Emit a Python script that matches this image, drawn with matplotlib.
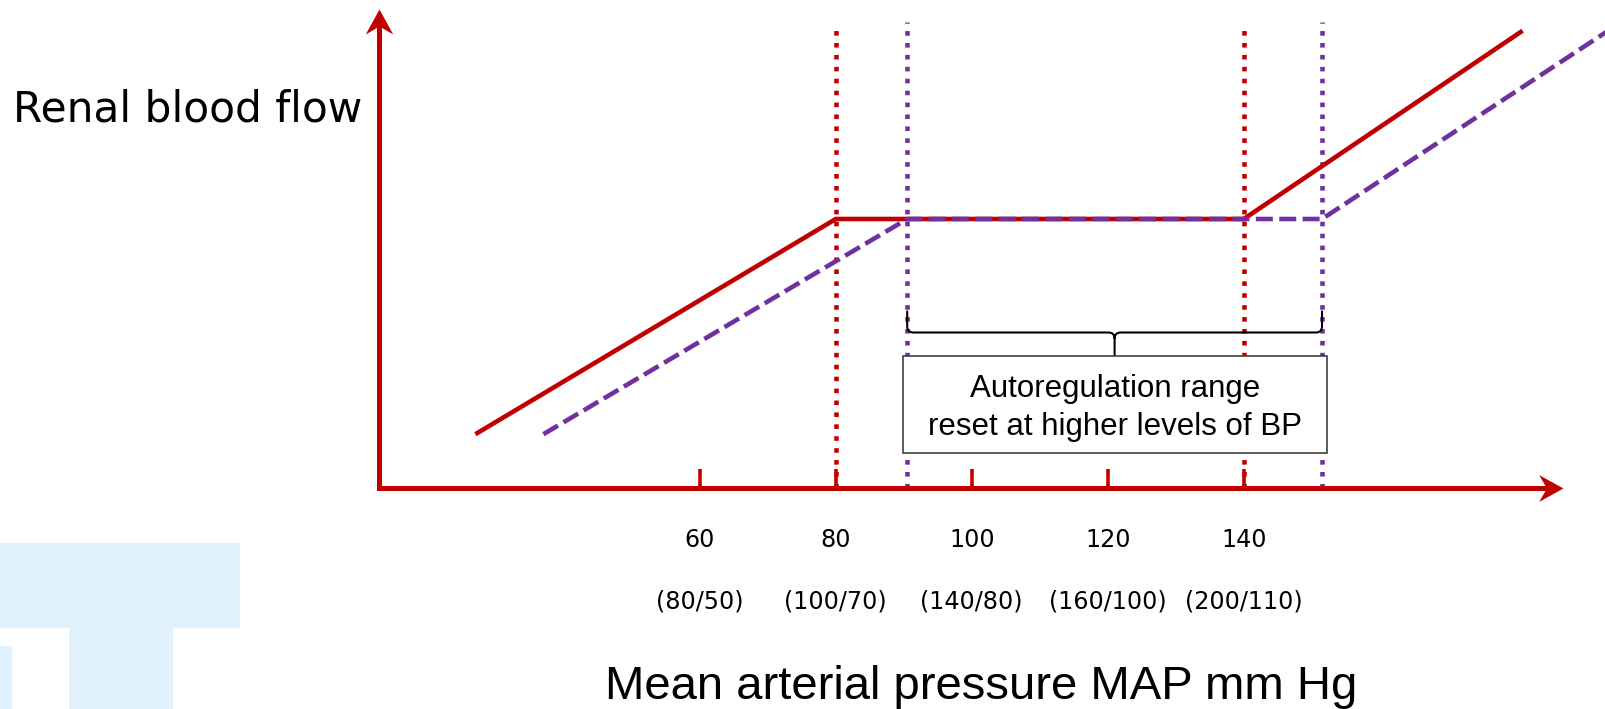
import matplotlib
matplotlib.use("Agg")
import matplotlib.pyplot as plt
from matplotlib.path import Path
from matplotlib.patches import PathPatch, Rectangle

# ---------------- data ----------------
map_ticks = [60, 80, 100, 120, 140]
bp_labels = ["(80/50)", "(100/70)", "(140/80)", "(160/100)", "(200/110)"]

normal_x = [27, 80, 140, 181]          # normal autoregulation curve (MAP)
normal_y = [20, 100, 100, 170]         # renal blood flow (arbitrary units)
reset_x = [37, 90.5, 151.5, 196]       # reset curve (hypertension)
reset_y = [20, 100, 100, 174]

normal_range = [80, 140]
reset_range = [90.5, 151.5]

y_label = "Renal blood flow"
x_label = "Mean arterial pressure MAP mm Hg"
box_lines = ["Autoregulation range", "reset at higher levels of BP"]

RED = "#C00000"
PURPLE = "#7030A0"
LOGO = "#E0F2FD"

# ---------------- layout helpers ----------------
W, H, DPI = 1605, 709, 100
fig = plt.figure(figsize=(W / DPI, H / DPI), dpi=DPI)
ax = fig.add_axes([0, 0, 1, 1])

X_SCALE, X_REF_PX, X_REF = 6.8, 971.8, 100.0
Y_SCALE, Y0_PX = 2.69, 488.0


def dx(px):
    return X_REF + (px - X_REF_PX) / X_SCALE


def dy(py):
    return (Y0_PX - py) / Y_SCALE


ax.set_xlim(dx(0), dx(W))
ax.set_ylim(dy(H), dy(0))
ax.axis("off")

# ---------------- background logo ----------------
for (x0, y0, x1, y1) in [(0, 543, 240, 628), (69, 628, 173, 709), (0, 646, 12, 709)]:
    fig.patches.append(Rectangle((x0 / W, 1 - y1 / H), (x1 - x0) / W, (y1 - y0) / H,
                                 transform=fig.transFigure, facecolor=LOGO,
                                 edgecolor="none", zorder=0))

# ---------------- axes with arrows ----------------
y_axis_x = dx(379)
x_tip = dx(1563)
y_tip = dy(9)
ax.plot([y_axis_x, dx(1546)], [0, 0], color=RED, lw=3.6, solid_capstyle="projecting", zorder=2)
ax.plot([y_axis_x, y_axis_x], [0, dy(26)], color=RED, lw=3.6, solid_capstyle="projecting", zorder=2)

head_right = Path([(0, 0), (-1, 0.55), (-0.68, 0), (-1, -0.55), (0, 0)],
                  [Path.MOVETO, Path.LINETO, Path.LINETO, Path.LINETO, Path.CLOSEPOLY])
head_up = Path([(0, 0), (0.55, -1), (0, -0.68), (-0.55, -1), (0, 0)],
               [Path.MOVETO, Path.LINETO, Path.LINETO, Path.LINETO, Path.CLOSEPOLY])
ax.plot([x_tip], [0], marker=head_right, ms=35, color=RED, mew=0, linestyle="none", zorder=3)
ax.plot([y_axis_x], [y_tip], marker=head_up, ms=36, color=RED, mew=0, linestyle="none", zorder=3)

# tick marks and labels
ax.vlines(map_ticks, 0, dy(469), color=RED, lw=2.6, zorder=2)
for t, lab in zip(map_ticks, bp_labels):
    ax.text(t, dy(547), str(t), ha="center", va="baseline", fontsize=17.2,
            family="DejaVu Sans", color="black")
    ax.text(t, dy(609), lab, ha="center", va="baseline", fontsize=17.2,
            family="DejaVu Sans", color="black")

# ---------------- reference dotted lines ----------------
dot = (0, (1.0, 1.6))
ax.vlines(normal_range, 0, dy(26), color=RED, lw=3.3, linestyles=[dot], zorder=1)
ax.vlines(reset_range, 0, dy(22), color=PURPLE, lw=3.3, linestyles=[dot], zorder=1)

# ---------------- curves ----------------
ax.plot(normal_x, normal_y, color=RED, lw=3.3, solid_capstyle="butt",
        solid_joinstyle="miter", zorder=3)
ax.plot(reset_x, reset_y, color=PURPLE, lw=3.3, linestyle=(0, (3.7, 1.4)),
        dash_capstyle="butt", zorder=4)

# ---------------- brace ----------------
L, R = reset_range
M = (L + R) / 2
y_top, y_h, y_bot = dy(310.7), dy(332.5), dy(355.7)
rx, ry = 0.9, 2.3
verts = [(L, y_top), (L, y_h + ry), (L, y_h), (L + rx, y_h), (M - rx, y_h), (M, y_h), (M, y_h - ry), (M, y_bot),
         (M, y_h - ry), (M, y_h), (M + rx, y_h), (R - rx, y_h), (R, y_h), (R, y_h + ry), (R, y_top)]
codes = [Path.MOVETO, Path.LINETO, Path.CURVE3, Path.CURVE3, Path.LINETO, Path.CURVE3, Path.CURVE3, Path.LINETO,
         Path.MOVETO, Path.CURVE3, Path.CURVE3, Path.LINETO, Path.CURVE3, Path.CURVE3, Path.LINETO]
ax.add_patch(PathPatch(Path(verts, codes), facecolor="none", edgecolor="black", lw=1.5, zorder=5))

# ---------------- annotation box ----------------
bx0, bx1, by0, by1 = dx(902.7), dx(1326.7), dy(453), dy(355.7)
ax.add_patch(Rectangle((bx0, by0), bx1 - bx0, by1 - by0, facecolor="white",
                       edgecolor="#404040", lw=1.2, zorder=5))
cx = (bx0 + bx1) / 2
ax.text(cx, dy(397), box_lines[0], ha="center", va="baseline", fontsize=22.5,
        family="Liberation Sans", zorder=6)
ax.text(cx, dy(435), box_lines[1], ha="center", va="baseline", fontsize=22.5,
        family="Liberation Sans", zorder=6)

# ---------------- axis titles ----------------
fig.text(12.7 / W, 1 - 122 / H, y_label, ha="left", va="baseline", fontsize=30.4,
         family="DejaVu Sans")
fig.text(981 / W, 1 - 699 / H, x_label, ha="center", va="baseline", fontsize=34,
         family="Liberation Sans")

fig.savefig("out.png", dpi=DPI)
